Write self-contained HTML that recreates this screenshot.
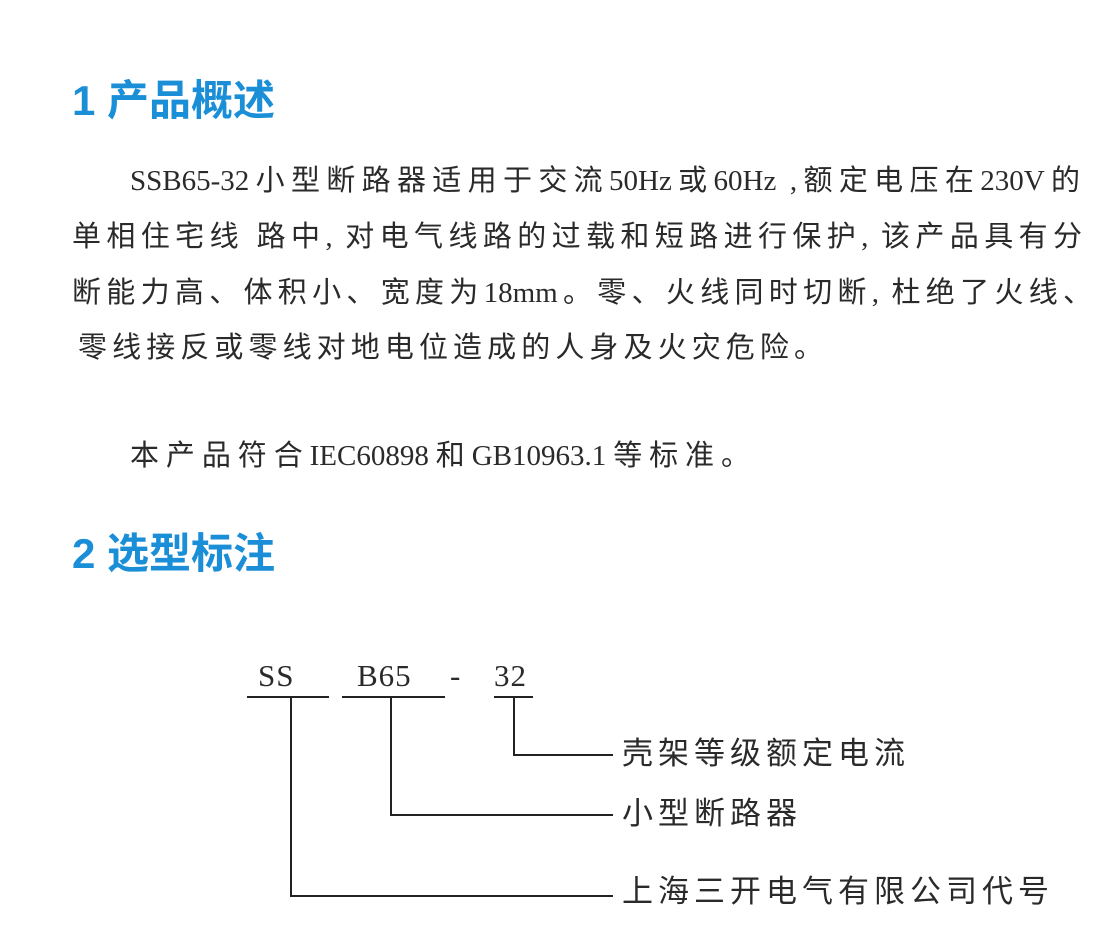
<!DOCTYPE html>
<html><head><meta charset="utf-8"><style>
body{margin:0;width:1112px;height:950px;background:#fff;position:relative;overflow:hidden}
.h{position:absolute;left:72px;font-family:"Liberation Sans","Noto Sans CJK SC",sans-serif;font-weight:bold;font-size:42px;color:#1a8ed6;line-height:1}
.t{position:absolute;font-family:"Liberation Serif","Noto Sans CJK SC",sans-serif;font-size:29px;color:#2a2a2a;line-height:1;white-space:nowrap;text-align:justify;text-align-last:justify}
.d{position:absolute;font-family:"Liberation Serif","Noto Sans CJK SC",sans-serif;font-size:31px;color:#2a2a2a;line-height:1;white-space:nowrap;letter-spacing:5px}
.l{position:absolute;background:#222}
</style></head><body>
<div class="h" style="top:80px">1 产品概述</div>
<div class="t" style="left:130px;top:167px;width:950px">SSB65-32小型断路器适用于交流50Hz或60Hz ,额定电压在230V的</div>
<div class="t" style="left:72px;top:223px;width:1010px">单相住宅线 路中, 对电气线路的过载和短路进行保护, 该产品具有分</div>
<div class="t" style="left:72px;top:279px;width:1020px">断能力高、体积小、宽度为18mm。零、火线同时切断, 杜绝了火线、</div>
<div class="t" style="left:78px;top:334px;width:745px">零线接反或零线对地电位造成的人身及火灾危险。</div>
<div class="t" style="left:130px;top:442px;width:620px">本产品符合IEC60898和GB10963.1等标准。</div>
<div class="h" style="top:533px">2 选型标注</div>
<div class="d" style="left:258px;top:660px;letter-spacing:1px">SS</div>
<div class="d" style="left:357px;top:660px;letter-spacing:1px">B65</div>
<div class="d" style="left:450px;top:660px">-</div>
<div class="d" style="left:494px;top:660px;letter-spacing:1px">32</div>
<div class="l" style="left:247px;top:696px;width:82px;height:2px"></div>
<div class="l" style="left:342px;top:696px;width:103px;height:2px"></div>
<div class="l" style="left:494px;top:696px;width:39px;height:2px"></div>
<div class="l" style="left:290px;top:696px;width:2px;height:201px"></div>
<div class="l" style="left:390px;top:696px;width:2px;height:120px"></div>
<div class="l" style="left:513px;top:696px;width:2px;height:60px"></div>
<div class="l" style="left:513px;top:754px;width:100px;height:2px"></div>
<div class="l" style="left:390px;top:814px;width:223px;height:2px"></div>
<div class="l" style="left:290px;top:895px;width:323px;height:2px"></div>
<div class="d" style="left:622px;top:738px">壳架等级额定电流</div>
<div class="d" style="left:622px;top:798px">小型断路器</div>
<div class="d" style="left:622px;top:876px">上海三开电气有限公司代号</div>
</body></html>
